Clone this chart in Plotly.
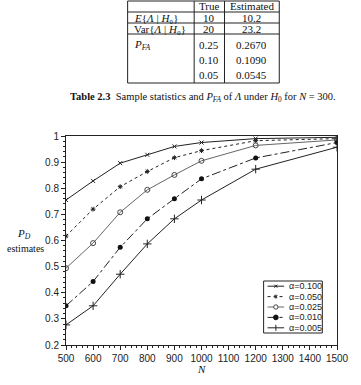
import plotly.graph_objects as go

# ---------------- data ----------------
N_values = [500, 600, 700, 800, 900, 1000, 1200, 1500]
pd_a100 = [0.755, 0.828, 0.896, 0.928, 0.960, 0.975, 0.990, 0.995]
pd_a050 = [0.617, 0.720, 0.806, 0.864, 0.917, 0.944, 0.982, 0.990]
pd_a025 = [0.494, 0.590, 0.708, 0.794, 0.851, 0.905, 0.964, 0.985]
pd_a010 = [0.350, 0.443, 0.574, 0.683, 0.760, 0.836, 0.916, 0.975]
pd_a005 = [0.277, 0.350, 0.471, 0.587, 0.683, 0.755, 0.873, 0.957]
alpha_labels = ["α=0.100", "α=0.050", "α=0.025", "α=0.010", "α=0.005"]

x_ticks = [500, 600, 700, 800, 900, 1000, 1100, 1200, 1300, 1400, 1500]
y_ticks = [0.2, 0.3, 0.4, 0.5, 0.6, 0.7, 0.8, 0.9, 1.0]

table_header = ["", "True", "Estimated"]
table_rows = [
    ["<i>E</i>{<i>Λ</i> | <i>H</i>₀}", "10", "10.2"],
    ["Var{<i>Λ</i> | <i>H</i>₀}", "20", "23.2"],
]
pfa_label = "<i>P</i><sub><i>FA</i></sub>"
pfa_true = ["0.25", "0.10", "0.05"]
pfa_est = ["0.2670", "0.1090", "0.0545"]
caption = ("<b>Table 2.3</b>  Sample statistics and <i>P</i><sub><i>FA</i></sub> of "
           "<i>Λ</i> under <i>H</i><sub>0</sub> for <i>N</i> = 300.")

# ---------------- layout geometry ----------------
W, H = 361, 385
L, R, T, B = 66, 18, 136, 40
PW, PH = W - L - R, H - T - B

def px(x):
    return (x - L) / PW

def py(y):
    return (H - B - y) / PH

INK = "#222"
series = [pd_a100, pd_a050, pd_a025, pd_a010, pd_a005]
line_cols = [INK, INK, "#666", INK, INK]
dashes = ["solid", "dot", "solid", "dashdot", "solid"]
markers = [
    dict(symbol="x-thin", size=4, line=dict(color=INK, width=1)),
    dict(symbol="asterisk", size=4, line=dict(color=INK, width=1)),
    dict(symbol="circle-open", size=5, color="#444", line=dict(color="#444", width=1)),
    dict(symbol="circle", size=5, color="#111"),
    dict(symbol="cross-thin", size=6, line=dict(color=INK, width=1)),
]

fig = go.Figure()
for ys, lab, lc, ds, mk in zip(series, alpha_labels, line_cols, dashes, markers):
    fig.add_trace(go.Scatter(x=N_values, y=ys, name=lab, mode="lines+markers",
                             line=dict(color=lc, width=1, dash=ds), marker=mk,
                             showlegend=False))

axis_font = dict(family="Liberation Sans, Arial, sans-serif", size=10, color=INK)
fig.update_xaxes(range=[500, 1500], tickvals=x_ticks, ticks="outside", ticklen=4,
                 tickcolor=INK, showline=True, linecolor=INK, linewidth=1, mirror=True,
                 showgrid=False, zeroline=False, tickfont=axis_font,
                 minor=dict(dtick=20, ticks="outside", ticklen=2, tickcolor=INK))
fig.update_yaxes(range=[0.2, 1.0], tickvals=y_ticks, ticktext=[("%g" % v) for v in y_ticks],
                 ticks="outside", ticklen=4,
                 tickcolor=INK, showline=True, linecolor=INK, linewidth=1, mirror=True,
                 showgrid=False, zeroline=False, tickfont=axis_font,
                 minor=dict(dtick=0.02, ticks="outside", ticklen=2, tickcolor=INK))

serif = "Liberation Serif, Times New Roman, serif"
ann = []
shapes = []

def pline(x0, y0, x1, y1, color=INK, dash="solid", width=1):
    shapes.append(dict(type="line", xref="paper", yref="paper", x0=px(x0), x1=px(x1),
                       y0=py(y0), y1=py(y1), line=dict(color=color, width=width, dash=dash)))

# axis titles
ann.append(dict(x=px(23), y=py(234), xref="paper", yref="paper", text="<i>P</i><sub><i>D</i></sub>",
                showarrow=False, font=dict(family=serif, size=11, color="#111"),
                xanchor="center", yanchor="middle"))
ann.append(dict(x=px(25), y=py(248), xref="paper", yref="paper", text="estimates",
                showarrow=False, font=dict(family=serif, size=10, color="#111"),
                xanchor="center", yanchor="middle"))
ann.append(dict(x=px(205), y=py(369), xref="paper", yref="paper", text="<i>N</i>",
                showarrow=False, font=dict(family=serif, size=11, color="#111"),
                xanchor="center", yanchor="middle"))

# caption
ann.append(dict(x=px(206), y=py(98), xref="paper", yref="paper", text=caption,
                showarrow=False, font=dict(family=serif, size=10.5, color="#111"),
                xanchor="center", yanchor="middle"))

# table
col_x = [129, 197, 228, 284]
row_lines = [1, 12, 23, 34, 83]
for xv in col_x:
    pline(xv, row_lines[0], xv, row_lines[-1])
for yv in row_lines:
    pline(col_x[0], yv, col_x[-1], yv)

tfont = dict(family=serif, size=11, color="#111")
col_centers = [(col_x[1] + col_x[2]) / 2, (col_x[2] + col_x[3]) / 2]

def cell(x, y, text, anchor="center", font=tfont):
    ann.append(dict(x=px(x), y=py(y), xref="paper", yref="paper", text=text, showarrow=False,
                    font=font, xanchor=anchor, yanchor="middle"))

cell(col_centers[0], 6.5, table_header[1])
cell(col_centers[1], 6.5, table_header[2])
row_y = [17.5, 28.5]
for ry, row in zip(row_y, table_rows):
    cell(133, ry, row[0], "left")
    cell(col_centers[0], ry, row[1])
    cell(col_centers[1], ry, row[2])
pfa_y = [45, 60, 75]
cell(133, pfa_y[0], pfa_label, "left")
for ry, tv, ev in zip(pfa_y, pfa_true, pfa_est):
    cell(col_centers[0], ry, tv)
    cell(col_centers[1], ry, ev)

# compact legend box (drawn as layout shapes + text)
lg_x0, lg_x1, lg_y0, lg_y1 = 268, 328, 281, 333
shapes.append(dict(type="rect", xref="paper", yref="paper", x0=px(lg_x0), x1=px(lg_x1),
                   y0=py(lg_y1), y1=py(lg_y0), line=dict(color=INK, width=1), fillcolor="white"))
row_h = (lg_y1 - lg_y0) / len(alpha_labels)
sx0, sx1 = 272, 289
sxm = (sx0 + sx1) / 2
lfont = dict(family="Liberation Sans, Arial, sans-serif", size=9, color=INK)
for i, (lab, lc, ds) in enumerate(zip(alpha_labels, line_cols, dashes)):
    yc = lg_y0 + row_h * (i + 0.5)
    pline(sx0, yc, sx1, yc, color=lc, dash=ds)
    if i == 0:      # x marker
        pline(sxm - 1.5, yc - 1.5, sxm + 1.5, yc + 1.5)
        pline(sxm - 1.5, yc + 1.5, sxm + 1.5, yc - 1.5)
    elif i == 1:    # asterisk
        pline(sxm - 1.5, yc - 1.5, sxm + 1.5, yc + 1.5)
        pline(sxm - 1.5, yc + 1.5, sxm + 1.5, yc - 1.5)
        pline(sxm, yc - 2, sxm, yc + 2)
    elif i == 2:    # open circle
        shapes.append(dict(type="circle", xref="paper", yref="paper",
                           x0=px(sxm - 2.2), x1=px(sxm + 2.2), y0=py(yc + 2.2), y1=py(yc - 2.2),
                           line=dict(color="#444", width=1), fillcolor="white"))
    elif i == 3:    # filled circle
        shapes.append(dict(type="circle", xref="paper", yref="paper",
                           x0=px(sxm - 2.4), x1=px(sxm + 2.4), y0=py(yc + 2.4), y1=py(yc - 2.4),
                           line=dict(color="#111", width=1), fillcolor="#111"))
    else:           # plus
        pline(sxm, yc - 3, sxm, yc + 3)
    cell(292, yc, lab, "left", lfont)

fig.update_layout(
    width=W, height=H,
    margin=dict(l=L, r=R, t=T, b=B),
    paper_bgcolor="white", plot_bgcolor="white",
    annotations=ann, shapes=shapes,
    showlegend=False,
)

fig.write_html("out.html")
